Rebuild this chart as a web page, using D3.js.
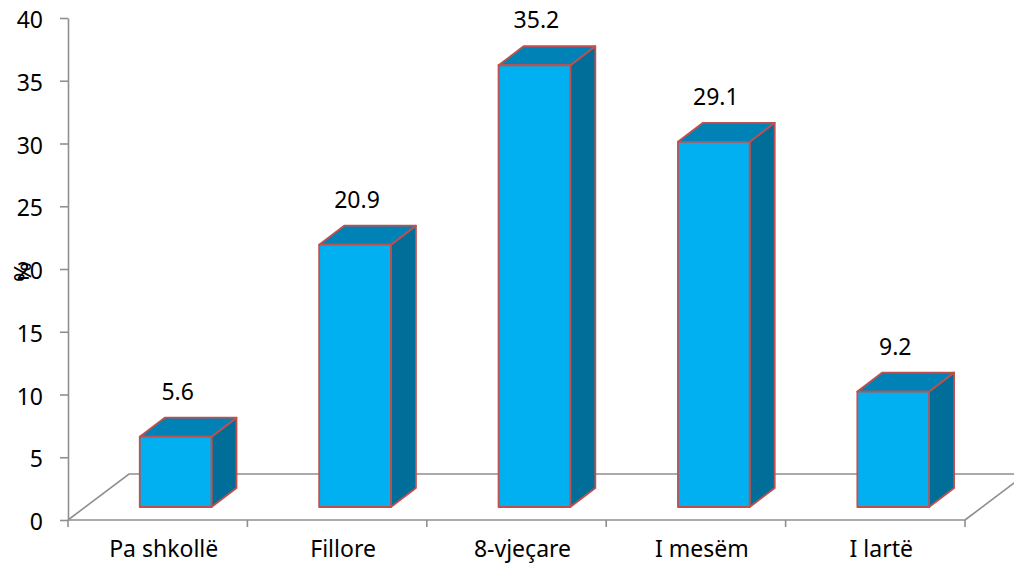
<!DOCTYPE html>
<html>
<head>
<meta charset="utf-8">
<script src="https://cdn.jsdelivr.net/npm/d3@7"></script>
<style>
  html, body { margin: 0; padding: 0; background: #fff; }
  svg { display: block; }
  text { font-family: "Noto Sans", "Open Sans", sans-serif; fill: #000; }
</style>
</head>
<body>
<svg id="chart" width="1014" height="571"></svg>
<script>
// Education level distribution (%)
const categories = ["Pa shkollë", "Fillore", "8-vjeçare", "I mesëm", "I lartë"];
const values = [5.6, 20.9, 35.2, 29.1, 9.2];
const yTicks = [0, 5, 10, 15, 20, 25, 30, 35, 40];
const yLabel = "%";

(function () {
  const W = 1014, H = 571;
  const svg = d3.select("#chart");

  // plot frame
  const plotLeft = 68, plotRight = 965, plotTop = 18, plotBottom = 520;
  // perspective offsets: floor depth and bar depth
  const floorDX = 61, floorDY = -46;
  const barDX = 25, barDY = -19;
  const barLift = 13; // bars stand a bit behind the front edge of the floor

  const x = d3.scaleBand().domain(categories).range([plotLeft, plotRight]).padding(0);
  const y = d3.scaleLinear().domain([0, 40]).range([plotBottom, plotTop]);

  const gridColor = "#8f8f8f";
  const fontSize = 23;

  svg.append("defs").append("clipPath").attr("id", "frame")
    .append("rect").attr("width", W).attr("height", H);

  // floor
  const floor = svg.append("g").attr("clip-path", "url(#frame)")
    .attr("fill", "none").attr("stroke", gridColor).attr("stroke-width", 1.6);
  floor.append("path").attr("d", d3.line()([
    [plotLeft, plotBottom], [plotLeft + floorDX, plotBottom + floorDY], [plotRight + floorDX + 60, plotBottom + floorDY]
  ]));
  floor.append("path").attr("d", d3.line()([
    [plotRight, plotBottom], [plotRight + floorDX, plotBottom + floorDY]
  ]));

  // y axis
  const yAxis = svg.append("g")
    .attr("transform", `translate(${plotLeft},0)`)
    .call(d3.axisLeft(y).tickValues(yTicks).tickSize(8).tickSizeOuter(0).tickPadding(17));
  yAxis.select(".domain").attr("stroke", gridColor).attr("stroke-width", 1.6);
  yAxis.selectAll(".tick line").attr("stroke", gridColor).attr("stroke-width", 1.6);
  yAxis.selectAll(".tick text")
    .attr("font-family", "Noto Sans, Open Sans, sans-serif")
    .attr("font-size", fontSize).attr("fill", "#000").attr("dy", "0.42em");

  // y axis title
  svg.append("text")
    .attr("transform", `translate(21,272) rotate(-90)`)
    .attr("text-anchor", "middle").attr("dominant-baseline", "central")
    .attr("font-size", 24)
    .text(yLabel);

  // x axis line and category ticks
  svg.append("line")
    .attr("x1", plotLeft).attr("x2", plotRight).attr("y1", plotBottom).attr("y2", plotBottom)
    .attr("stroke", gridColor).attr("stroke-width", 1.6);
  const tickXs = categories.map(c => x(c)).concat([x(categories[categories.length - 1]) + x.bandwidth()]);
  svg.append("g").selectAll("line").data(tickXs).join("line")
    .attr("x1", d => d).attr("x2", d => d)
    .attr("y1", plotBottom).attr("y2", plotBottom + 7)
    .attr("stroke", gridColor).attr("stroke-width", 1.6);

  svg.append("g").selectAll("text").data(categories).join("text")
    .attr("x", d => x(d) + x.bandwidth() / 2 + 6)
    .attr("y", 557)
    .attr("text-anchor", "middle")
    .attr("font-size", fontSize)
    .text(d => d);

  // 3D bars
  const rows = categories.map((c, i) => ({ c, v: values[i] }));
  const bw = x.bandwidth() * 0.4;
  const bars = svg.append("g").selectAll("g").data(rows).join("g")
    .attr("stroke", "#C0504D").attr("stroke-width", 1.8).attr("stroke-linejoin", "round");

  bars.each(function (d) {
    const g = d3.select(this);
    const x0 = x(d.c) + x.bandwidth() * 0.4;
    const x1 = x0 + bw;
    const yb = y(0) - barLift;
    const yt = y(d.v) - barLift;
    // side face
    g.append("path").attr("fill", "#006E99").attr("d", d3.line()([
      [x1, yt], [x1 + barDX, yt + barDY], [x1 + barDX, yb + barDY], [x1, yb]
    ]) + "Z");
    // top face
    g.append("path").attr("fill", "#0082B6").attr("d", d3.line()([
      [x0, yt], [x0 + barDX, yt + barDY], [x1 + barDX, yt + barDY], [x1, yt]
    ]) + "Z");
    // front face
    g.append("rect").attr("fill", "#00B0F0")
      .attr("x", x0).attr("y", yt).attr("width", bw).attr("height", yb - yt);
  });

  // value labels
  svg.append("g").selectAll("text").data(rows).join("text")
    .attr("x", d => x(d.c) + x.bandwidth() * 0.6 + 2)
    .attr("y", d => y(d.v) - barLift - 37)
    .attr("text-anchor", "middle")
    .attr("font-size", fontSize)
    .text(d => d3.format(".1f")(d.v));
})();
</script>
</body>
</html>
